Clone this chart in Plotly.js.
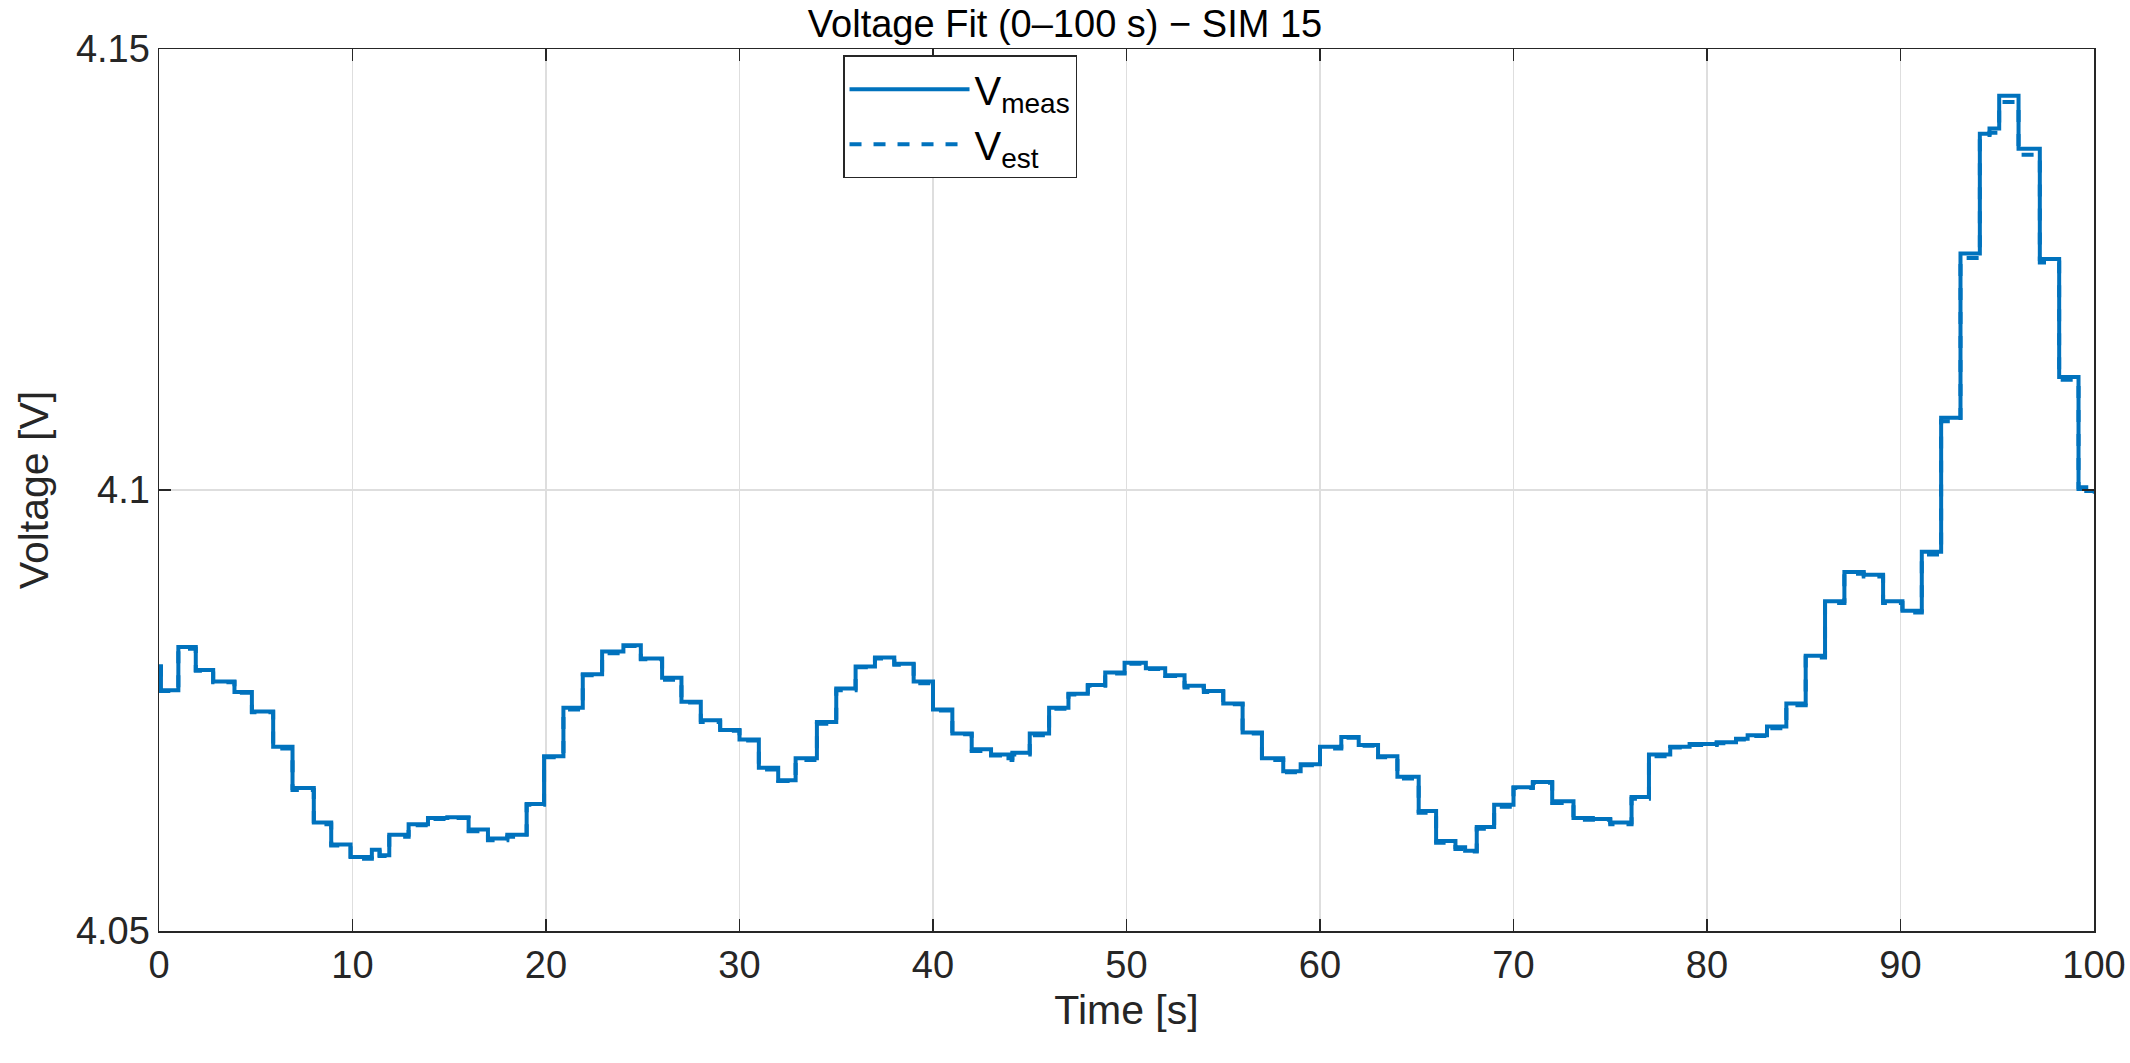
<!DOCTYPE html>
<html><head><meta charset="utf-8">
<script src="https://cdn.plot.ly/plotly-3.0.1.min.js"></script>
<style>html,body{margin:0;padding:0;background:#fff}</style>
</head><body><div id="chart" style="width:2130px;height:1063px"></div>
<script>
const stepTimes = [0,0.1,1.0,1.9,2.8,3.9,4.8,5.9,6.9,8.0,8.9,9.9,11.0,11.4,11.9,12.9,13.9,14.9,16.0,17.0,18.0,19.0,19.9,20.9,21.9,22.9,24.0,24.9,26.0,27.0,28.0,29.0,30.0,31.0,32.0,32.9,34.0,35.0,36.0,37.0,38.0,39.0,40.0,41.0,42.0,43.0,43.9,44.1,45.0,46.0,47.0,48.0,48.9,49.9,51.0,52.0,53.0,54.0,55.0,56.0,57.0,58.1,59.0,60.0,61.1,62.0,63.0,64.0,65.1,66.0,67.0,67.5,68.1,69.0,70.0,71.0,72.0,73.1,74.1,75.0,76.1,77.0,78.1,79.1,80.5,81.5,82.1,83.1,84.1,85.1,86.1,87.1,88.1,89.1,90.1,91.1,92.1,93.1,94.1,94.6,95.1,96.1,97.2,98.2,99.2,99.6,100];
const vMeas = [4.0800,4.0773,4.0822,4.0796,4.0783,4.0771,4.0749,4.0709,4.0662,4.0623,4.0598,4.0584,4.0592,4.0586,4.0609,4.0621,4.0628,4.0629,4.0615,4.0605,4.0609,4.0644,4.0698,4.0753,4.0791,4.0817,4.0824,4.0809,4.0787,4.0760,4.0739,4.0728,4.0717,4.0685,4.0671,4.0696,4.0737,4.0775,4.0800,4.0810,4.0803,4.0783,4.0751,4.0724,4.0706,4.0700,4.0696,4.0702,4.0724,4.0753,4.0769,4.0779,4.0793,4.0804,4.0798,4.0790,4.0778,4.0772,4.0758,4.0725,4.0696,4.0681,4.0689,4.0709,4.0720,4.0711,4.0698,4.0675,4.0636,4.0602,4.0595,4.0591,4.0618,4.0643,4.0663,4.0669,4.0647,4.0628,4.0627,4.0623,4.0652,4.0700,4.0709,4.0712,4.0714,4.0718,4.0722,4.0732,4.0758,4.0812,4.0874,4.0907,4.0904,4.0874,4.0863,4.0930,4.1082,4.1268,4.1404,4.1410,4.1447,4.1387,4.1262,4.1128,4.1003,4.0999,4.0998];
const vEst = [4.0800,4.0772,4.0820,4.0795,4.0782,4.0770,4.0748,4.0707,4.0660,4.0621,4.0597,4.0582,4.0590,4.0585,4.0607,4.0620,4.0627,4.0628,4.0613,4.0603,4.0607,4.0643,4.0697,4.0751,4.0790,4.0815,4.0823,4.0808,4.0785,4.0759,4.0737,4.0727,4.0716,4.0683,4.0670,4.0694,4.0735,4.0773,4.0799,4.0809,4.0802,4.0781,4.0750,4.0723,4.0704,4.0699,4.0694,4.0700,4.0722,4.0752,4.0768,4.0778,4.0792,4.0803,4.0797,4.0789,4.0776,4.0771,4.0757,4.0724,4.0694,4.0680,4.0688,4.0707,4.0719,4.0710,4.0697,4.0673,4.0634,4.0600,4.0593,4.0590,4.0616,4.0641,4.0662,4.0668,4.0645,4.0626,4.0626,4.0621,4.0650,4.0698,4.0708,4.0711,4.0713,4.0717,4.0721,4.0730,4.0756,4.0810,4.0872,4.0905,4.0902,4.0872,4.0861,4.0927,4.1078,4.1263,4.1398,4.1405,4.1440,4.1380,4.1258,4.1125,4.1001,4.0998,4.0997];
const xTicks = [0,10,20,30,40,50,60,70,80,90,100];
const yTicks = [4.05,4.1,4.15];
const yTickLabels = ['4.05','4.1','4.15'];

const col = '#0072BD';
const font = 'Liberation Sans, Arial, sans-serif';
const axCol = '#262626';
const traces = [
 {x: stepTimes, y: vMeas, name: 'V<sub>meas</sub>', mode: 'lines', line: {color: col, width: 4, shape: 'hv'}},
 {x: stepTimes, y: vEst, name: 'V<sub>est</sub>', mode: 'lines', line: {color: col, width: 4, shape: 'hv', dash: 'dash'}}
];
const axBase = {showline: true, mirror: 'ticks', linecolor: axCol, linewidth: 1.5, ticks: 'inside', ticklen: 12, tickcolor: axCol, tickwidth: 1.5,
  showgrid: true, gridcolor: '#dedede', gridwidth: 1.5, zeroline: false, tickfont: {family: font, size: 38, color: axCol}};
const layout = {
 width: 2130, height: 1063,
 margin: {l: 159, r: 36, t: 49, b: 132},
 paper_bgcolor: '#fff', plot_bgcolor: '#fff',
 title: {text: 'Voltage Fit (0\u2013100 s) \u2212 SIM 15', font: {family: font, size: 38, color: '#000'}, x: 0.5, xanchor: 'center', y: 0.978, yanchor: 'middle'},
 xaxis: Object.assign({}, axBase, {range: [0, 100], tickvals: xTicks, ticktext: xTicks.map(String),
   title: {text: 'Time [s]', font: {family: font, size: 41, color: axCol}, standoff: 10}}),
 yaxis: Object.assign({}, axBase, {range: [4.05, 4.15], tickvals: yTicks, ticktext: yTickLabels,
   title: {text: 'Voltage [V]', font: {family: font, size: 41, color: axCol}, standoff: 14}}),
 legend: {x: 0.3535, y: 0.993, xanchor: 'left', yanchor: 'top', bgcolor: '#fff', bordercolor: '#262626', borderwidth: 1.5,
   font: {family: font, size: 40, color: '#000'}, itemwidth: 120, tracegroupgap: 20},
 showlegend: true
};
Plotly.newPlot('chart', traces, layout, {displayModeBar: false, staticPlot: true});
</script></body></html>
